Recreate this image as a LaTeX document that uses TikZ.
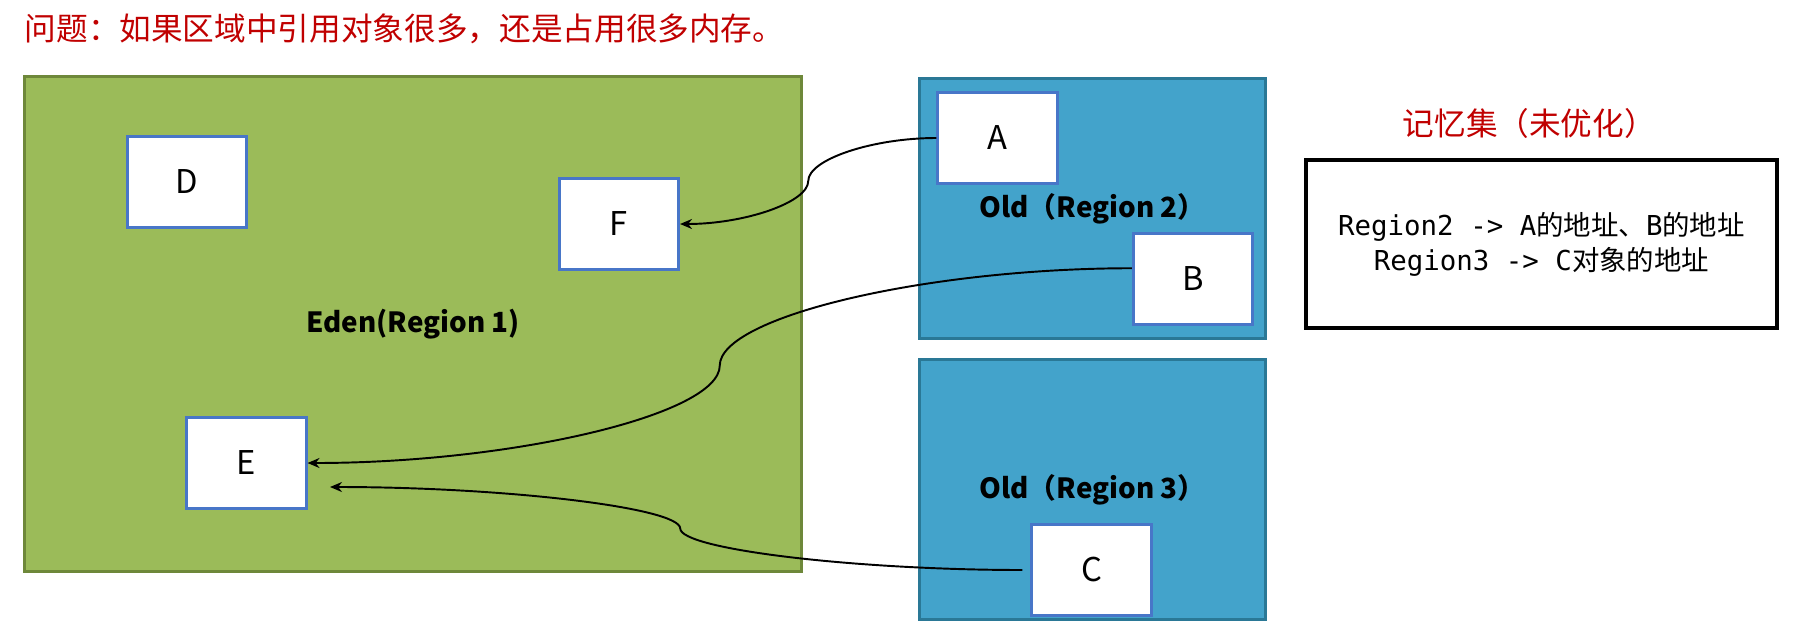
\documentclass[tikz,border=0pt]{standalone}
\usepackage{fontspec}
\setmainfont{Noto Sans CJK SC}
\newfontfamily\codefont{DejaVu Sans Mono}
\usetikzlibrary{positioning, arrows.meta, calc}

\definecolor{edenfill}{RGB}{155,187,89}
\definecolor{edenline}{RGB}{110,136,58}
\definecolor{oldfill}{RGB}{67,163,203}
\definecolor{oldline}{RGB}{42,120,150}
\definecolor{objline}{RGB}{72,118,200}
\definecolor{slidered}{RGB}{192,0,0}

\tikzset{
  % Heap regions
  eden/.style={
    draw=edenline, fill=edenfill, line width=0.85pt,
    minimum width=7.77cm, minimum height=4.94cm,
    font=\fontsize{7.9}{10}\selectfont\bfseries
  },
  oldgen/.style={
    draw=oldline, fill=oldfill, line width=0.85pt,
    minimum width=3.45cm, minimum height=2.59cm,
    font=\fontsize{7.9}{10}\selectfont\bfseries
  },
  % Objects
  objbox/.style={
    draw=objline, fill=white, line width=0.85pt,
    minimum width=1.19cm, minimum height=0.9cm,
    font=\fontsize{9.3}{10}\selectfont
  },
  % Remembered set
  remset/.style={
    draw, line width=0.95pt, align=center,
    minimum width=4.71cm, minimum height=1.68cm,
    font=\codefont\fontsize{7.8}{10}\selectfont
  },
  slidetitle/.style={
    anchor=west, inner sep=0pt, text=slidered,
    font=\fontsize{9}{10}\selectfont
  },
  % Reference arrow
  refarrow/.style={
    -{Stealth[length=1.2mm, width=1mm]}, line width=0.55pt
  },
}
\newcommand{\zh}[1]{{\rmfamily #1}}
% curved connector, vertical tangent halfway
\newcommand{\curvedref}[3][]{%
  \coordinate (crMid) at ($(#2)!0.5!(#3)$);
  \coordinate (crQa)  at ($(#2)!0.5!(crMid)$);
  \coordinate (crQb)  at ($(crMid)!0.5!(#3)$);
  \draw[refarrow, #1] (#2) .. controls (crQa |- #2) and (crMid |- crQa) .. (crMid)
                           .. controls (crMid |- crQb) and (crQb |- #3) .. (#3);
}

\begin{document}
\begin{tikzpicture}[x=0.01cm, y=0.01cm]
  \useasboundingbox (0,0) rectangle (1796,-639);

  %% ── Title ──
  \node[slidetitle] (question) at (24,-29) {问题：如果区域中引用对象很多，还是占用很多内存。};

  %% ── Regions ──
  \node[eden]   (region1) at (413,-324)     {Eden(Region 1)};
  \node[oldgen] (region2) at (1092.5,-208.5) {Old（Region 2）};
  \node[oldgen] (region3) at (1092.5,-489.5) {Old（Region 3）};

  %% ── Objects ──
  \node[objbox] (D) at (187,-182)    {D};
  \node[objbox] (F) at (619,-224)    {F};
  \node[objbox] (E) at (246.5,-463)  {E};
  \node[objbox] (A) at (997.5,-138)  {A};
  \node[objbox] (B) at (1193,-279)   {B};
  \node[objbox] (C) at (1091.5,-570) {C};

  %% ── Remembered set ──
  \node[slidetitle] (remtitle) at (1402,-123) {记忆集（未优化）};
  \node[remset] (remtable) at (1541.5,-244)
    {Region2 -> A\zh{的地址、}B\zh{的地址}\\Region3 -> C\zh{对象的地址}};

  %% ── References ──
  \coordinate (eHit) at (330,-487);
  \curvedref{A.west}{F.east}
  \curvedref{B.170}{E.east}
  \curvedref[shorten <=0.8mm]{C.west}{eHit}

\end{tikzpicture}
\end{document}
